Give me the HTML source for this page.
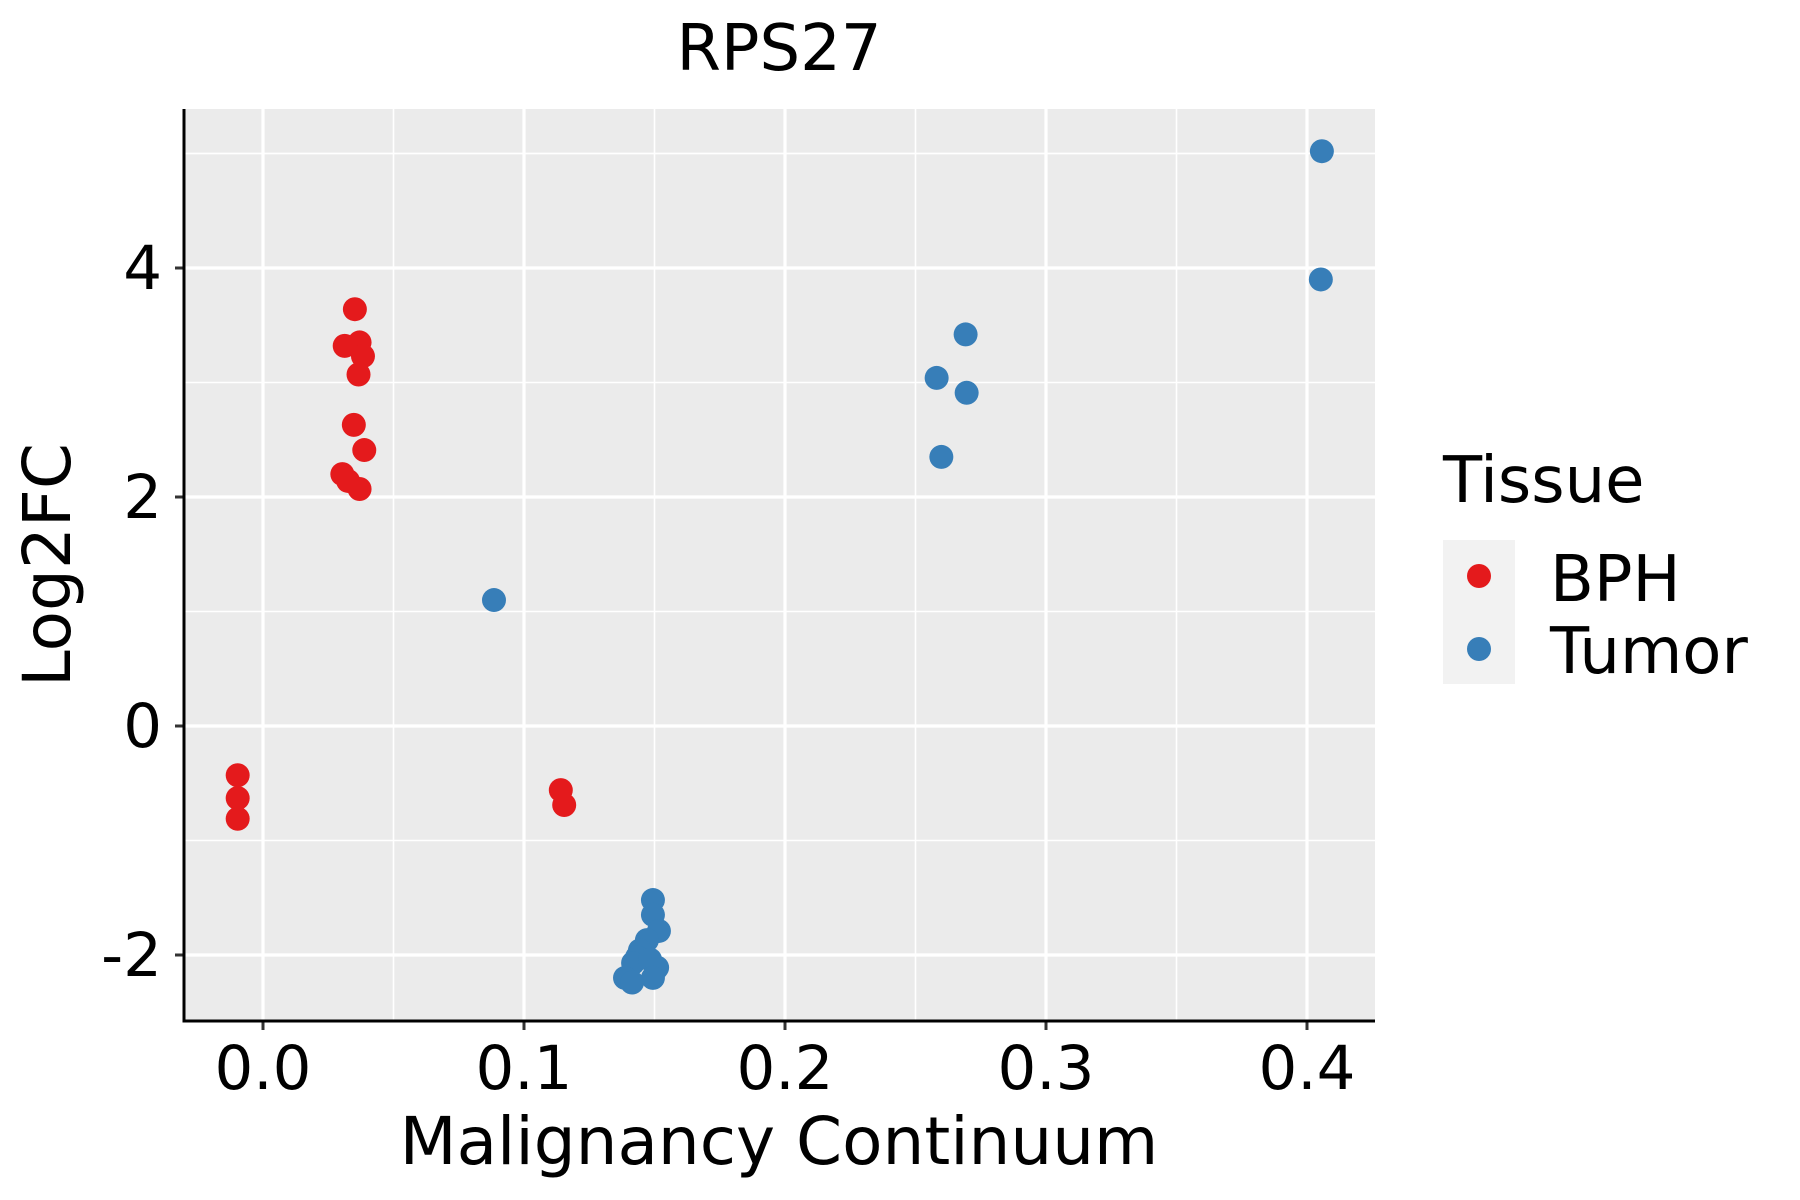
<!DOCTYPE html>
<html><head><meta charset="utf-8"><style>
body{margin:0;background:#fff}
svg{display:block;font-family:"DejaVu Sans","Liberation Sans",sans-serif}
</style></head><body>
<svg id="chart" width="1800" height="1200" viewBox="0 0 1800 1200">
<rect x="184" y="109" width="1191" height="912" fill="#EBEBEB"/>
<g id="grid"></g><g id="pts"></g><g id="axes"></g>
<text x="779" y="70" font-size="64" text-anchor="middle">RPS27</text>
<text x="779" y="1164" font-size="66" text-anchor="middle">Malignancy Continuum</text>
<text transform="translate(70,565) rotate(-90)" font-size="66" text-anchor="middle">Log2FC</text>
<g>
<text x="1443" y="502" font-size="64">Tissue</text>
<rect x="1443" y="540" width="72" height="144" fill="#F2F2F2"/>
<circle cx="1479" cy="576" r="12" fill="#E41A1C"/>
<circle cx="1479" cy="649" r="12" fill="#377EB8"/>
<text x="1550" y="601" font-size="64">BPH</text>
<text x="1550" y="673" font-size="64">Tumor</text>
</g>
</svg>
<script>
const xTicks=[0.0,0.1,0.2,0.3,0.4];
const xTickLabels=["0.0","0.1","0.2","0.3","0.4"];
const yTicks=[-2,0,2,4];
const yTickLabels=["-2","0","2","4"];
const bphX=[-0.0097,-0.0097,-0.0097,0.0352,0.0313,0.0370,0.0383,0.0366,0.0348,0.0388,0.0304,0.0326,0.0370,0.1141,0.1154];
const bphY=[-0.43,-0.63,-0.81,3.64,3.32,3.35,3.23,3.07,2.63,2.41,2.20,2.14,2.07,-0.56,-0.69];
const tumorX=[0.4057,0.4053,0.2692,0.2581,0.2696,0.2599,0.0885,0.1494,0.1494,0.1517,0.1471,0.1444,0.1433,0.1418,0.1483,0.1510,0.1494,0.1387,0.1414];
const tumorY=[5.02,3.90,3.42,3.04,2.91,2.35,1.10,-1.52,-1.65,-1.79,-1.87,-1.96,-2.02,-2.07,-2.04,-2.11,-2.20,-2.20,-2.24];
const L=184,R=1375,T=109,B=1021;
const sx=v=>263+v*2610;
const sy=v=>726-v*114.5;
const NS="http://www.w3.org/2000/svg";
function mk(tag,attrs,parent){const e=document.createElementNS(NS,tag);for(const k in attrs)e.setAttribute(k,attrs[k]);parent.appendChild(e);return e;}
const grid=document.getElementById('grid'),pts=document.getElementById('pts'),axes=document.getElementById('axes');
for(let i=0;i<xTicks.length;i++){
  const x=sx(xTicks[i]);
  const g=mk('line',{x1:x,x2:x,y1:T,y2:B,stroke:'#fff','stroke-width':3.2},grid);
  
  
  const m=mk('line',{x1:x+130.5,x2:x+130.5,y1:T,y2:B,stroke:'#fff','stroke-width':1.6},grid);
  
  
  const t=mk('line',{x1:x,x2:x,y1:B,y2:B+9,stroke:'#333','stroke-width':3},axes);
  
  
  const lb=mk('text',{x:x,y:B+68,'font-size':61,'text-anchor':'middle'},axes);
  lb.textContent=xTickLabels[i];
  
  
}
for(let i=0;i<yTicks.length;i++){
  const y=sy(yTicks[i]);
  const g=mk('line',{x1:L,x2:R,y1:y,y2:y,stroke:'#fff','stroke-width':3.2},grid);
  
  
  const m=mk('line',{x1:L,x2:R,y1:y-114.5,y2:y-114.5,stroke:'#fff','stroke-width':1.6},grid);
  
  
  const t=mk('line',{x1:L-9,x2:L,y1:y,y2:y,stroke:'#333','stroke-width':3},axes);
  
  
  const lb=mk('text',{x:L-22,y:y+21,'font-size':61,'text-anchor':'end'},axes);
  lb.textContent=yTickLabels[i];
  
  
}
{const m=mk('line',{x1:L,x2:R,y1:sy(5),y2:sy(5),stroke:'#fff','stroke-width':1.6},grid);

}
for(let i=0;i<bphX.length;i++){
  const c=mk('circle',{cx:sx(bphX[i]),cy:sy(bphY[i]),r:12,fill:'#E41A1C'},pts);
  
  
}
for(let i=0;i<tumorX.length;i++){
  const c=mk('circle',{cx:sx(tumorX[i]),cy:sy(tumorY[i]),r:12,fill:'#377EB8'},pts);
  
  
}
const ax=mk('line',{x1:L,x2:L,y1:T,y2:B+1.5,stroke:'#000','stroke-width':3},axes);


const bx=mk('line',{x1:L-1.5,x2:R,y1:B,y2:B,stroke:'#000','stroke-width':3},axes);


</script>
</body></html>
